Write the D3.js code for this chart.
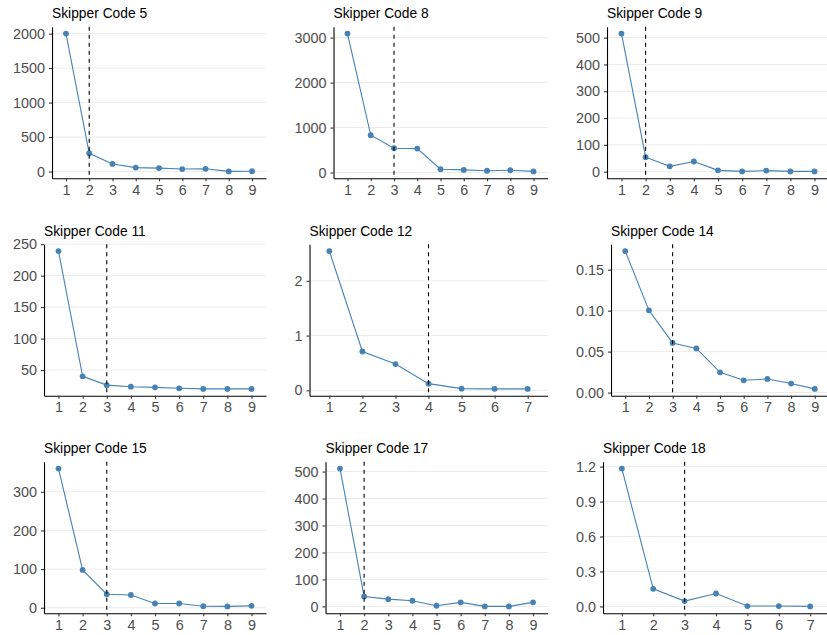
<!DOCTYPE html>
<html>
<head>
<meta charset="utf-8">
<script src="https://cdn.jsdelivr.net/npm/d3@7"></script>
<style>
  body { margin: 0; background: #fff; }
  text { font-family: "Liberation Sans", Arial, sans-serif; }
</style>
</head>
<body>
<svg width="827" height="635"></svg>
<script>
// panel titles and chosen elbow per panel
var titles = ["Skipper Code 5", "Skipper Code 8", "Skipper Code 9",
              "Skipper Code 11", "Skipper Code 12", "Skipper Code 14",
              "Skipper Code 15", "Skipper Code 17", "Skipper Code 18"];
var elbows = [2, 3, 2, 3, 4, 3, 3, 2, 3];

// values (index 1..n on x)
var code5  = [2000, 265, 110, 57, 50, 36, 40, 2, 4];
var code8  = [3090, 831, 540, 532, 74, 59, 40, 51, 25];
var code9  = [515, 54, 20, 38, 5, 1, 4, 1, 1];
var code11 = [239, 40, 26, 23.5, 22.5, 21, 20, 20, 20];
var code12 = [2.545, 0.709, 0.479, 0.121, 0.03, 0.026, 0.025];
var code14 = [0.1727, 0.1004, 0.0606, 0.0539, 0.0247, 0.015, 0.0166, 0.011, 0.0045];
var code15 = [360, 98, 35, 33, 11, 11, 4, 3.5, 5];
var code17 = [511, 37, 27, 21, 2.5, 15, 0, 0, 15];
var code18 = [1.183, 0.151, 0.046, 0.111, 0.003, 0.003, 0.0];

// y tick labels per panel
var ticks5  = ["0", "500", "1000", "1500", "2000"];
var ticks8  = ["0", "1000", "2000", "3000"];
var ticks9  = ["0", "100", "200", "300", "400", "500"];
var ticks11 = ["50", "100", "150", "200", "250"];
var ticks12 = ["0", "1", "2"];
var ticks14 = ["0.00", "0.05", "0.10", "0.15"];
var ticks15 = ["0", "100", "200", "300"];
var ticks17 = ["0", "100", "200", "300", "400", "500"];
var ticks18 = ["0.0", "0.3", "0.6", "0.9", "1.2"];

var panelValues = [code5, code8, code9, code11, code12, code14, code15, code17, code18];
var panelTicks = [ticks5, ticks8, ticks9, ticks11, ticks12, ticks14, ticks15, ticks17, ticks18];

var svg = d3.select("svg"),
    cellW = 281.5,
    cellH = 217.5,
    tickFont = 14.4,
    dotColor = "steelblue";

panelValues.forEach(function(vals, i) {
  var col = i % 3,
      row = Math.floor(i / 3),
      cx = col * cellW,
      cy = row * cellH,
      ticks = panelTicks[i];

  // width of the widest y label decides where the panel starts
  var tmp = svg.append("text").style("font-size", tickFont + "px");
  var labelW = d3.max(ticks, function(t) { tmp.text(t); return tmp.node().getComputedTextLength(); });
  tmp.remove();

  var left = cx + 13 + labelW + 7,
      right = cx + 266,
      top = cy + 26.7,
      bottom = cy + 178.3;

  var x = d3.scalePoint()
      .domain(d3.range(1, vals.length + 1))
      .range([left, right])
      .padding(0.6);

  var ext = d3.extent(vals),
      pad = (ext[1] - ext[0]) * 0.05;
  var y = d3.scaleLinear()
      .domain([ext[0] - pad, ext[1] + pad])
      .range([bottom, top]);

  var g = svg.append("g");

  // horizontal grid
  g.selectAll(".grid")
    .data(ticks)
    .enter().append("line")
      .attr("x1", left).attr("x2", right)
      .attr("y1", function(d) { return y(+d); })
      .attr("y2", function(d) { return y(+d); })
      .attr("stroke", "#EBEBEB")
      .attr("stroke-width", 1);

  // axes
  var yAxis = g.append("g")
      .attr("transform", "translate(" + left + ",0)")
      .call(d3.axisLeft(y)
        .tickValues(ticks.map(Number))
        .tickFormat(function(d, j) { return ticks[j]; })
        .tickSize(3).tickSizeOuter(0).tickPadding(4));

  var xAxis = g.append("g")
      .attr("transform", "translate(0," + bottom + ")")
      .call(d3.axisBottom(x).tickSize(3).tickSizeOuter(0).tickPadding(3));

  [yAxis, xAxis].forEach(function(a) {
    a.select(".domain").attr("stroke", "#000").attr("stroke-width", 1.1);
    a.selectAll(".tick line").attr("stroke", "#333").attr("stroke-width", 1.1);
    a.selectAll(".tick text")
      .attr("fill", "#4D4D4D")
      .style("font-size", tickFont + "px")
      .style("font-family", "'Liberation Sans', Arial, sans-serif");
  });

  // line + points
  var line = d3.line()
      .x(function(d, j) { return x(j + 1); })
      .y(function(d) { return y(d); });

  g.append("path")
    .datum(vals)
    .attr("d", line)
    .attr("fill", "none")
    .attr("stroke", dotColor)
    .attr("stroke-width", 1.1);

  g.selectAll(".dot")
    .data(vals)
    .enter().append("circle")
      .attr("cx", function(d, j) { return x(j + 1); })
      .attr("cy", function(d) { return y(d); })
      .attr("r", 2.9)
      .attr("fill", dotColor);

  // elbow marker
  g.append("line")
    .attr("x1", x(elbows[i])).attr("x2", x(elbows[i]))
    .attr("y1", top).attr("y2", bottom)
    .attr("stroke", "#000")
    .attr("stroke-width", 1.1)
    .attr("stroke-dasharray", "4,4");

  // title
  g.append("text")
    .attr("x", left)
    .attr("y", cy + 18)
    .style("font-size", "13.8px")
    .attr("fill", "#000")
    .text(titles[i]);
});
</script>
</body>
</html>
